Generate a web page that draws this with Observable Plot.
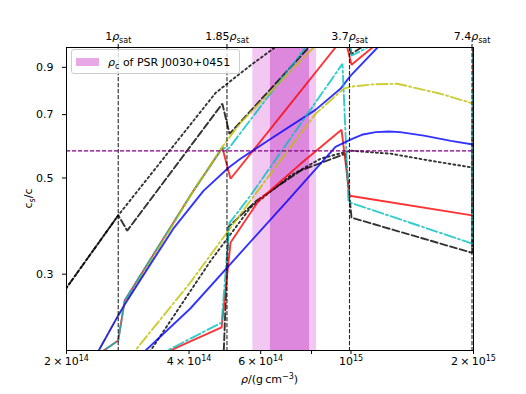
<!DOCTYPE html>
<html><head><meta charset="utf-8">
<script src="https://cdn.jsdelivr.net/npm/d3@7"></script>
<script src="https://cdn.jsdelivr.net/npm/@observablehq/plot@0.6"></script>
<style>
body{margin:0;background:#fff}
#chart{position:relative;width:526px;height:394px}
</style>
</head><body><div id="chart"></div>
<script>
// density in units of 1e14 g/cm^3
const rhoSat = 2.68;
const satMultiples = [1, 1.85, 3.7, 7.4];
const xTicks = [2, 4, 6, 8, 10, 20];
const xTickLabels = {2: "2\u2009×\u200910{sup:14}", 4: "4\u2009×\u200910{sup:14}", 6: "6\u2009×\u200910{sup:14}", 10: "10{sup:15}", 20: "2\u2009×\u200910{sup:15}"};
const yTicks = [0.3, 0.5, 0.7, 0.9];
const conformal = 1 / Math.sqrt(3);
const bandOuter = [5.74, 8.23];
const bandInner = [6.34, 7.91];
const legendLabel = "{i:ρ}{sub:c} of PSR J0030+0451";

// curves: [rho, cs/c]
const aDotted = [[1.9,0.261],[2.0,0.279],[2.68,0.41],[4.65,0.786],[5.6,0.902],[6.5,1.0],[7.2,1.06]];
const aDashed = [[1.9,0.261],[2.0,0.279],[2.68,0.41],[2.82,0.378],[4.83,0.742],[5.03,0.632],[7.87,1.0],[9.75,1.25],[10.0,0.965],[10.6,1.0],[11.2,1.04]];
const bRed = [[2.3,0.19],[2.47,0.2],[2.68,0.211],[2.78,0.261],[4.10,0.467],[4.83,0.587],[5.06,0.498],[9.16,1.0],[9.64,1.062],[10.03,0.912],[11.29,1.0],[12,1.04]];
const bCyan = [[2.3,0.19],[2.47,0.2],[2.68,0.211],[2.78,0.261],[4.10,0.467],[4.83,0.587],[5.0,0.584],[7.73,1.0],[9.7,1.32],[10.03,0.957],[10.98,1.0],[11.5,1.03]];
const bOlive = [[2.3,0.185],[2.40,0.2],[2.68,0.241],[4.10,0.467],[4.83,0.59],[5.35,0.67],[8.09,1.0],[9.5,1.17]];
const bBlue = [[2.3,0.186],[2.40,0.2],[2.68,0.241],[2.82,0.261],[3.66,0.382],[4.34,0.467],[5.0,0.528],[5.35,0.554],[6.41,0.619],[8.18,0.718],[9.42,0.803],[9.97,0.86],[11.62,1.0],[12.5,1.07]];
const cDotted = [[3.1,0.19],[3.22,0.2],[4.52,0.322],[5.66,0.427],[7.10,0.506],[8.42,0.554],[9.97,0.578],[12.5,0.569],[15.7,0.548],[20,0.528]];
const cDashed = [[4.86,0.19],[5.0,0.386],[5.86,0.443],[7.52,0.520],[9.69,0.569],[10.03,0.405],[19.85,0.336],[20,1.5]];
const cRed = [[3.5,0.19],[3.60,0.2],[4.03,0.21],[4.81,0.226],[5.06,0.355],[5.93,0.443],[7.52,0.539],[9.48,0.646],[9.92,0.455],[19.85,0.41],[20,1.5]];
const cCyan = [[3.4,0.19],[3.54,0.2],[4.81,0.232],[5.03,0.394],[5.66,0.455],[9.53,0.917],[9.86,0.44],[19.85,0.353],[20,1.5]];
const cOlive = [[2.85,0.19],[2.95,0.2],[4.03,0.287],[5.66,0.443],[8.18,0.703],[9.59,0.803],[9.97,0.812],[11.3,0.822],[13.0,0.825],[16.6,0.782],[20,0.742]];
const cBlue = [[3.05,0.19],[3.13,0.2],[4.03,0.25],[6.98,0.443],[9.16,0.59],[9.97,0.613],[10.7,0.630],[11.5,0.638],[12.4,0.640],[13.2,0.638],[15.1,0.626],[17.6,0.609],[20,0.597]];

const styles = {
  dotted: {stroke: "#000000", dash: "1.9,3.0"},
  dashed: {stroke: "#000000", dash: "7,3"},
  red: {stroke: "#ff0000", dash: null},
  cyan: {stroke: "#00bfbf", dash: "11,3,2,3"},
  olive: {stroke: "#bfbf00", dash: "11,3,2,3"},
  blue: {stroke: "#0000ff", dash: null}
};
const curves = [
  [aDotted, "dotted"], [aDashed, "dashed"],
  [bRed, "red"], [bCyan, "cyan"], [bOlive, "olive"], [bBlue, "blue"],
  [cDotted, "dotted"], [cDashed, "dashed"], [cRed, "red"], [cCyan, "cyan"], [cOlive, "olive"], [cBlue, "blue"]
];
const bands = [
  {lo: bandOuter[0], hi: bandOuter[1], fill: "#f2c8f2"},
  {lo: bandInner[0], hi: bandInner[1], fill: "#dd88dd"}
];

const lineMarks = curves.map(([pts, s]) => Plot.line(pts.map(([rho, cs]) => ({rho, cs})), {
  x: "rho", y: "cs", stroke: styles[s].stroke, strokeWidth: 1.9, strokeOpacity: 0.8,
  strokeDasharray: styles[s].dash, clip: true, strokeLinejoin: "miter"
}));

const fmtTop = d => {
  const k = satMultiples.find(k => Math.abs(k * rhoSat - d) < 1e-6);
  return `${k}{i:ρ}{sub:sat}`;
};

const chart = Plot.plot({
  width: 526, height: 394,
  marginLeft: 66, marginRight: 53, marginTop: 47, marginBottom: 44,
  style: {fontFamily: "DejaVu Sans", fontSize: "11px", background: "white", color: "black"},
  x: {type: "log", domain: [2, 20]},
  y: {type: "log", domain: [0.2, 1.0]},
  marks: [
    Plot.rect(bands, {x1: "lo", x2: "hi", fill: "fill"}),
    ...lineMarks,
    Plot.ruleX(satMultiples, {x: d => d * rhoSat, stroke: "black", strokeWidth: 1.1, strokeDasharray: "4.2,1.8", strokeOpacity: 0.85}),
    Plot.ruleY([conformal], {stroke: "purple", strokeWidth: 1.1, strokeDasharray: "4.2,1.8"}),
    Plot.frame({stroke: "black", strokeWidth: 1}),
    Plot.axisX({anchor: "bottom", ticks: xTicks, tickFormat: d => xTickLabels[d] ?? "", tickSize: 4, tickPadding: 3, label: null}),
    Plot.axisX({anchor: "top", ticks: satMultiples.map(k => k * rhoSat), tickFormat: fmtTop, tickSize: 4, tickPadding: 4, label: null}),
    Plot.axisY({ticks: yTicks, tickFormat: d => d.toFixed(1), tickSize: 4, tickPadding: 9, label: null})
  ]
});
document.getElementById("chart").appendChild(chart);

function richify(el) {
  const s = el.textContent;
  if (!/\{(i|sub|sup):/.test(s)) return;
  el.textContent = "";
  const re = /\{(i|sub|sup):([^}]*)\}/g;
  let last = 0, m;
  const NS = "http://www.w3.org/2000/svg";
  const add = (txt, kind) => {
    const t = document.createElementNS(NS, "tspan");
    t.textContent = txt;
    if (kind === "i") t.setAttribute("font-style", "italic");
    if (kind === "sub") { t.setAttribute("font-size", "8px"); t.setAttribute("baseline-shift", "-2.5"); }
    if (kind === "sup") { t.setAttribute("font-size", "8px"); t.setAttribute("baseline-shift", "4.5"); }
    el.appendChild(t);
  };
  while ((m = re.exec(s))) {
    if (m.index > last) add(s.slice(last, m.index), null);
    add(m[2], m[1]);
    last = re.lastIndex;
  }
  if (last < s.length) add(s.slice(last), null);
}

const svg = d3.select(chart);
// axis titles
svg.append("text").attr("x", 269.5).attr("y", 383).attr("text-anchor", "middle")
  .attr("font-size", "11px").attr("fill", "black").text("{i:ρ}/(g\u2009cm{sup:−3})");
svg.append("text").attr("transform", "translate(32,198.5) rotate(-90)").attr("text-anchor", "middle")
  .attr("font-size", "11px").attr("fill", "black").text("c{sub:s}/c");
// legend
const lg = svg.append("g");
lg.append("rect").attr("x", 71.5).attr("y", 49.5).attr("width", 168).attr("height", 24).attr("rx", 2.5)
  .attr("fill", "white").attr("fill-opacity", 0.8).attr("stroke", "#cccccc").attr("stroke-width", 1);
lg.append("rect").attr("x", 76).attr("y", 58).attr("width", 23).attr("height", 8).attr("fill", "#e8a8e8");
lg.append("text").attr("x", 108).attr("y", 66).attr("text-anchor", "start")
  .attr("font-size", "11px").attr("fill", "black").text(legendLabel);

chart.querySelectorAll("text").forEach(richify);
</script>
</body></html>
